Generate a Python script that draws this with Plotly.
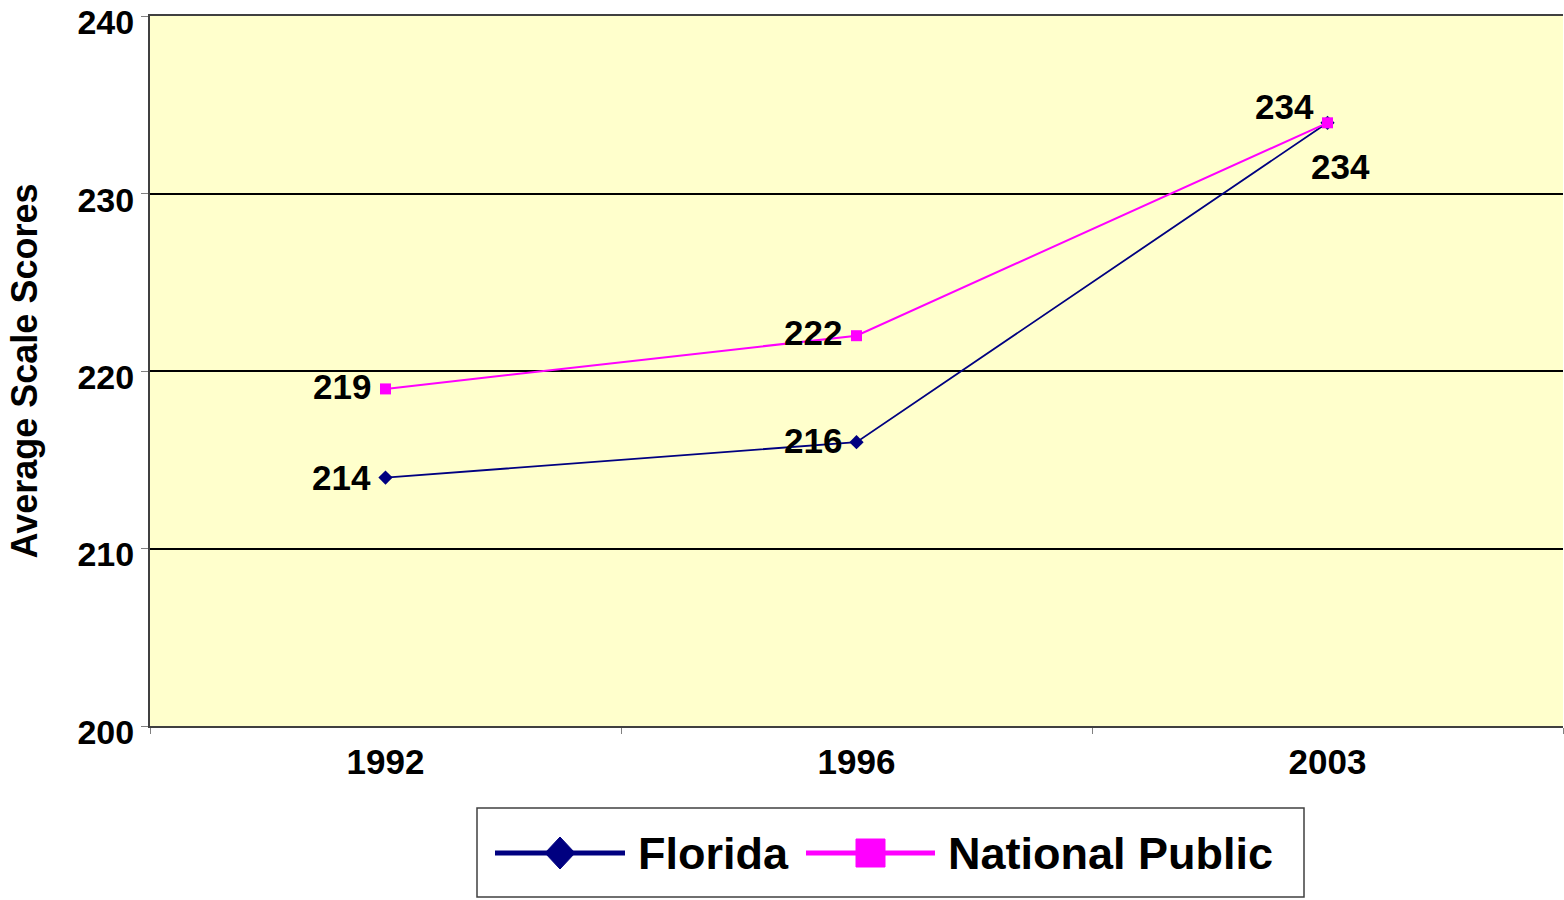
import plotly.graph_objects as go

# ---- data ----
years = ["1992", "1996", "2003"]
florida = [214, 216, 234]
national = [219, 222, 234]
y_ticks = [200, 210, 220, 230, 240]

# ---- layout constants (pixels) ----
W, H = 1564, 900
L, R, T = 150, 1, 16
PH = 710
B = H - T - PH
PW = W - L - R

def px(x):
    return (x - L) / PW

def py(y):
    return (H - B - y) / PH

NAVY = "#000080"
PINK = "#FF00FF"
FONT = "Liberation Sans, Arial, sans-serif"

fig = go.Figure()
fig.add_trace(go.Scatter(
    x=years, y=florida, mode="lines+markers", name="Florida",
    line=dict(color=NAVY, width=1.8),
    marker=dict(symbol="diamond", size=11, color=NAVY),
    showlegend=False,
))
fig.add_trace(go.Scatter(
    x=years, y=national, mode="lines+markers", name="National Public",
    line=dict(color=PINK, width=2),
    marker=dict(symbol="square", size=11, color=PINK),
    showlegend=False,
))

# data labels (offsets in pixels relative to each point)
fl_shift = [(-44, 0), (-44, 2), (13, -44)]
np_shift = [(-44, 2), (-44, 3), (-43, 16)]
annotations = []
for vals, shifts in ((florida, fl_shift), (national, np_shift)):
    for i, (v, (dx, dy)) in enumerate(zip(vals, shifts)):
        annotations.append(dict(
            x=i, y=v, xref="x", yref="y", text=str(v), showarrow=False,
            xanchor="center", yanchor="middle", xshift=dx, yshift=dy,
            font=dict(family=FONT, size=35, color="black", weight="bold"),
        ))

# custom legend
leg_y = 853
shapes = [
    dict(type="rect", xref="paper", yref="paper",
         x0=px(477), x1=px(1304), y0=py(897), y1=py(808),
         line=dict(color="#404040", width=1.5), fillcolor="white", layer="below"),
    dict(type="line", xref="paper", yref="paper",
         x0=px(495), x1=px(625), y0=py(leg_y), y1=py(leg_y),
         line=dict(color=NAVY, width=5)),
    dict(type="path", xref="paper", yref="paper",
         path=f"M {px(545)},{py(leg_y)} L {px(560)},{py(leg_y-16)} L {px(575)},{py(leg_y)} L {px(560)},{py(leg_y+16)} Z",
         fillcolor=NAVY, line=dict(color=NAVY, width=1)),
    dict(type="line", xref="paper", yref="paper",
         x0=px(806), x1=px(935), y0=py(leg_y), y1=py(leg_y),
         line=dict(color=PINK, width=5)),
    dict(type="rect", xref="paper", yref="paper",
         x0=px(856), x1=px(885), y0=py(leg_y+14), y1=py(leg_y-14),
         fillcolor=PINK, line=dict(color=PINK, width=1)),
]
annotations.append(dict(
    x=px(636), y=py(leg_y), xref="paper", yref="paper", text="Florida",
    showarrow=False, xanchor="left", yanchor="middle",
    font=dict(family=FONT, size=45, color="black", weight="bold")))
annotations.append(dict(
    x=px(946), y=py(leg_y), xref="paper", yref="paper", text="National Public",
    showarrow=False, xanchor="left", yanchor="middle",
    font=dict(family=FONT, size=45, color="black", weight="bold")))

fig.update_layout(
    width=W, height=H,
    margin=dict(l=L, r=R, t=T, b=B, autoexpand=False),
    paper_bgcolor="white",
    plot_bgcolor="#FFFFCC",
    showlegend=False,
    shapes=shapes,
    annotations=annotations,
    font=dict(family=FONT, color="black"),
)
fig.update_xaxes(
    type="category", range=[-0.5, 2.5],
    showline=True, linecolor="#404040", linewidth=2, mirror=True,
    showgrid=False, zeroline=False,
    ticks="outside", tickson="boundaries", ticklen=6, tickcolor="#808080",
    ticklabelstandoff=4,
    tickfont=dict(family=FONT, size=35, color="black", weight="bold"),
    automargin=False,
)
fig.update_yaxes(
    range=[200, 240.02], tickvals=y_ticks,
    showline=True, linecolor="#404040", linewidth=2,
    showgrid=True, gridcolor="black", gridwidth=1.5, zeroline=False,
    ticks="outside", ticklen=7, tickcolor="#808080",
    ticklabeloverflow="allow", ticklabelshift=6,
    tickfont=dict(family=FONT, size=34, color="black", weight="bold"),
    title=dict(text="Average Scale Scores", standoff=29,
               font=dict(family=FONT, size=36, color="black", weight="bold")),
    automargin=False,
)

fig.write_html("out.html", config={"displayModeBar": False},
               post_script="document.body.style.margin='0';")
